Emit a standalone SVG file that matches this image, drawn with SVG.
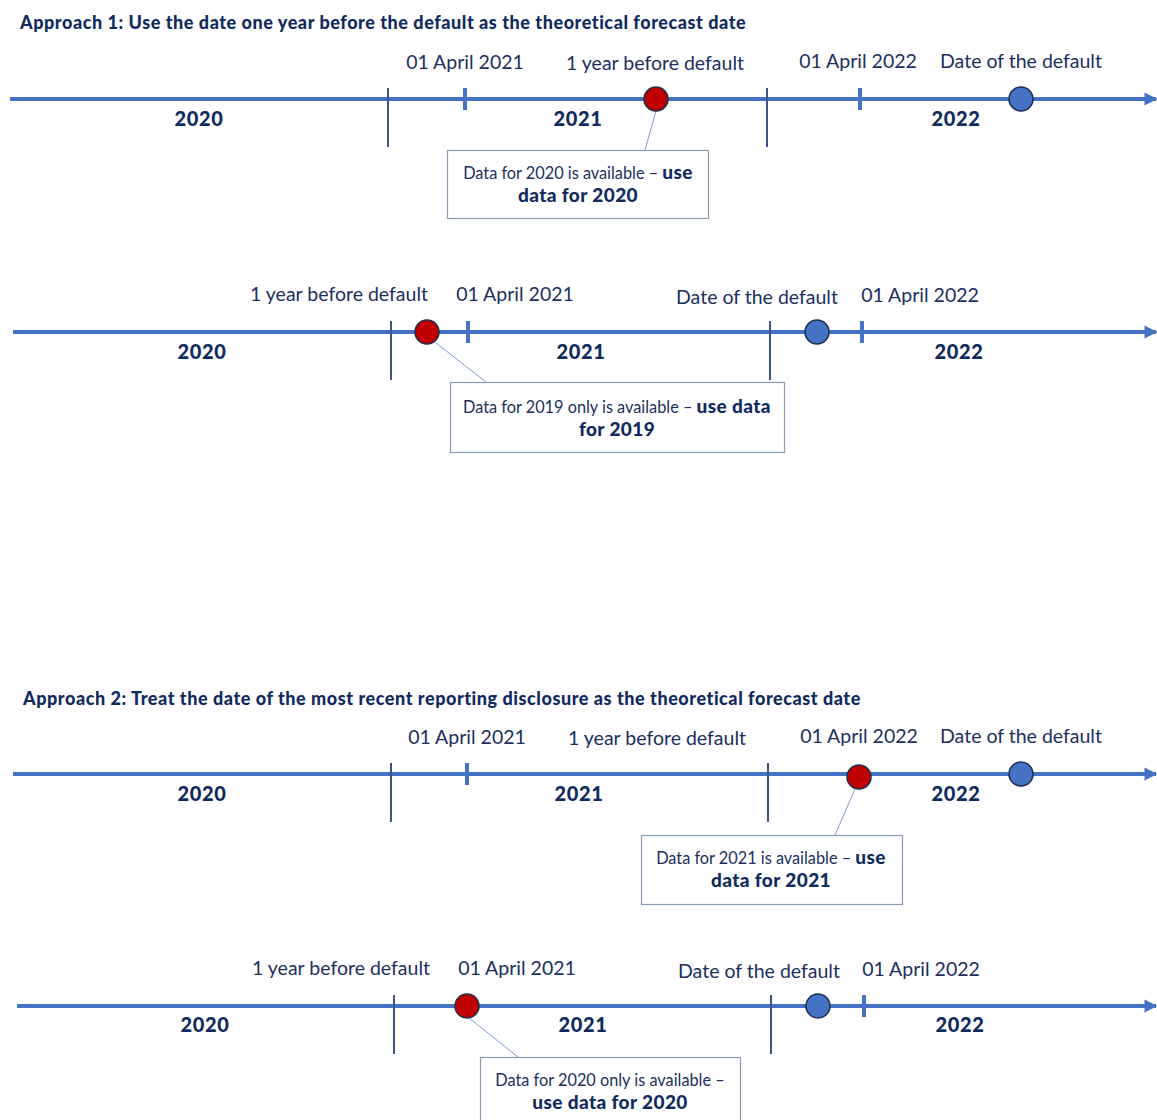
<svg xmlns="http://www.w3.org/2000/svg" width="1157" height="1120" viewBox="0 0 1157 1120">
<style>
.title{font-family:Lato,"Open Sans",sans-serif;font-weight:900;font-size:18px;letter-spacing:0.55px;fill:#0f2a5e}
.lbl{font-family:Lato,"Open Sans",sans-serif;font-size:19.5px;fill:#1a2f5e;text-anchor:middle}
.yr{font-family:Lato,"Open Sans",sans-serif;font-weight:900;font-size:20px;letter-spacing:0.6px;fill:#0f2a5e;text-anchor:middle}
.bx{font-family:Lato,"Open Sans",sans-serif;font-size:16.3px;fill:#1a2f5e;text-anchor:middle}
.b{font-weight:900;font-size:19px;letter-spacing:0.4px;fill:#0f2a5e}
.axis{stroke:#4472c4;stroke-width:4;fill:none}
.sep{stroke:#3d5488;stroke-width:2}
.tick{stroke:#4472c4;stroke-width:4}
.box{fill:#fff;stroke:#8a9bb8;stroke-width:1.2}
.conn{stroke:#7d9bd3;stroke-width:1}
.red{fill:#c00000;stroke:#1f2d4f;stroke-width:1.5}
.blue{fill:#4472c4;stroke:#1f2d4f;stroke-width:1.5}
</style>
<defs>
<marker id="arr" viewBox="0 0 10 10" refX="9" refY="5" markerWidth="3.2" markerHeight="3.6" orient="auto" markerUnits="strokeWidth">
<path d="M0,0 L10,5 L0,10 z" fill="#4472c4"/>
</marker>
</defs>
<rect width="1157" height="1120" fill="#fff"/>

<text id="title1" class="title" x="20" y="29">Approach 1: Use the date one year before the default as the theoretical forecast date</text>
<text id="title2" class="title" x="23" y="705">Approach 2: Treat the date of the most recent reporting disclosure as the theoretical forecast date</text>

<g id="connectors">
<line class="conn" x1="656" y1="111" x2="645" y2="150"/>
<line class="conn" x1="436" y1="343" x2="486" y2="382"/>
<line class="conn" x1="855" y1="789" x2="835" y2="835"/>
<line class="conn" x1="469" y1="1018" x2="518" y2="1057"/>
</g>

<!-- Timeline 1 -->
<g id="timeline1">
<line class="axis" x1="10" y1="99" x2="1156" y2="99" marker-end="url(#arr)"/>
<line class="sep" x1="388" y1="88" x2="388" y2="147"/>
<line class="sep" x1="767" y1="88" x2="767" y2="147"/>
<line class="tick" x1="465" y1="88" x2="465" y2="110"/>
<line class="tick" x1="860" y1="88" x2="860" y2="110"/>
<text class="yr" x="199" y="126">2020</text>
<text class="yr" x="578" y="126">2021</text>
<text class="yr" x="956" y="126">2022</text>
<text class="lbl" x="465" y="69">01 April 2021</text>
<text class="lbl" x="655" y="70">1 year before default</text>
<text class="lbl" x="858" y="68">01 April 2022</text>
<text class="lbl" x="1021" y="68">Date of the default</text>
</g>
<g id="t1-forecast"><circle class="red" cx="656" cy="99" r="12"/></g>
<g id="t1-default"><circle class="blue" cx="1021" cy="99" r="12"/></g>
<g id="t1-box">
<rect class="box" x="447.5" y="150.5" width="261" height="68"/>
<text class="bx" x="578" y="179">Data for 2020 is available – <tspan class="b">use</tspan></text>
<text class="bx b" x="578" y="202">data for 2020</text>
</g>

<!-- Timeline 2 -->
<g id="timeline2">
<line class="axis" x1="13" y1="332" x2="1156" y2="332" marker-end="url(#arr)"/>
<line class="sep" x1="391" y1="321" x2="391" y2="380"/>
<line class="sep" x1="770" y1="321" x2="770" y2="380"/>
<line class="tick" x1="468" y1="321" x2="468" y2="343"/>
<line class="tick" x1="862" y1="321" x2="862" y2="343"/>
<text class="yr" x="202" y="359">2020</text>
<text class="yr" x="581" y="359">2021</text>
<text class="yr" x="959" y="359">2022</text>
<text class="lbl" x="339" y="301">1 year before default</text>
<text class="lbl" x="515" y="301">01 April 2021</text>
<text class="lbl" x="757" y="304">Date of the default</text>
<text class="lbl" x="920" y="302">01 April 2022</text>
</g>
<g id="t2-forecast"><circle class="red" cx="427" cy="332" r="12"/></g>
<g id="t2-default"><circle class="blue" cx="817" cy="332" r="12"/></g>
<g id="t2-box">
<rect class="box" x="450.5" y="382.5" width="334" height="70"/>
<text class="bx" x="617" y="413">Data for 2019 only is available – <tspan class="b">use data</tspan></text>
<text class="bx b" x="617" y="436">for 2019</text>
</g>

<!-- Timeline 3 -->
<g id="timeline3">
<line class="axis" x1="13" y1="774" x2="1156" y2="774" marker-end="url(#arr)"/>
<line class="sep" x1="391" y1="763" x2="391" y2="822"/>
<line class="sep" x1="768" y1="763" x2="768" y2="822"/>
<line class="tick" x1="467" y1="763" x2="467" y2="785"/>
<text class="yr" x="202" y="801">2020</text>
<text class="yr" x="579" y="801">2021</text>
<text class="yr" x="956" y="801">2022</text>
<text class="lbl" x="467" y="744">01 April 2021</text>
<text class="lbl" x="657" y="745">1 year before default</text>
<text class="lbl" x="859" y="743">01 April 2022</text>
<text class="lbl" x="1021" y="743">Date of the default</text>
</g>
<g id="t3-forecast"><circle class="red" cx="859" cy="777" r="12"/></g>
<g id="t3-default"><circle class="blue" cx="1021" cy="774" r="12"/></g>
<g id="t3-box">
<rect class="box" x="641.5" y="835.5" width="261" height="69"/>
<text class="bx" x="771" y="864">Data for 2021 is available – <tspan class="b">use</tspan></text>
<text class="bx b" x="771" y="887">data for 2021</text>
</g>

<!-- Timeline 4 -->
<g id="timeline4">
<line class="axis" x1="17" y1="1006" x2="1156" y2="1006" marker-end="url(#arr)"/>
<line class="sep" x1="394" y1="995" x2="394" y2="1054"/>
<line class="sep" x1="771" y1="995" x2="771" y2="1054"/>
<line class="tick" x1="864" y1="995" x2="864" y2="1017"/>
<text class="yr" x="205" y="1032">2020</text>
<text class="yr" x="583" y="1032">2021</text>
<text class="yr" x="960" y="1032">2022</text>
<text class="lbl" x="341" y="975">1 year before default</text>
<text class="lbl" x="517" y="975">01 April 2021</text>
<text class="lbl" x="759" y="978">Date of the default</text>
<text class="lbl" x="921" y="976">01 April 2022</text>
</g>
<g id="t4-forecast"><circle class="red" cx="467" cy="1006" r="12"/></g>
<g id="t4-default"><circle class="blue" cx="818" cy="1006" r="12"/></g>
<g id="t4-box">
<rect class="box" x="480.5" y="1057.5" width="260" height="70"/>
<text class="bx" x="610" y="1086">Data for 2020 only is available –</text>
<text class="bx b" x="610" y="1109">use data for 2020</text>
</g>
</svg>
